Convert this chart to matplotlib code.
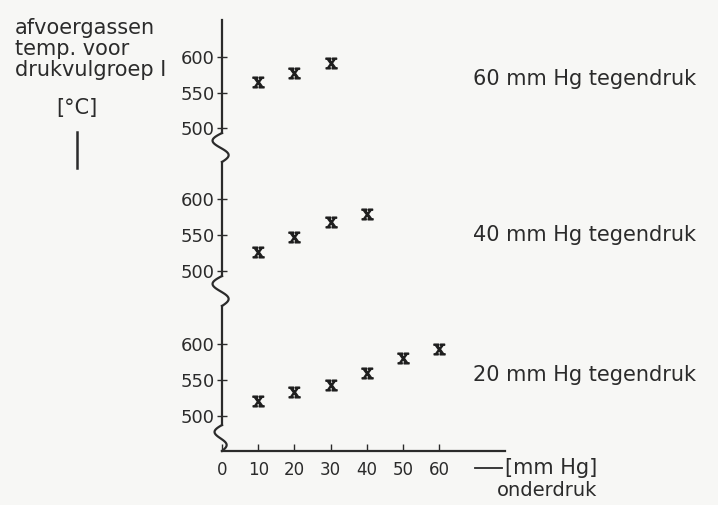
import numpy as np
import matplotlib
matplotlib.use("Agg")
import matplotlib.pyplot as plt
from matplotlib.lines import Line2D

plt.rcParams['font.family'] = ['DejaVu Sans']
plt.rcParams['mathtext.fontset'] = 'dejavuserif'

# ---- data ----
onderdruk = [10, 20, 30, 40, 50, 60]
temp_60 = [565, 577, 592]
temp_40 = [526, 547, 568, 579]
temp_20 = [521, 533, 543, 560, 580, 593]
y_ticks = [500, 550, 600]
x_ticks = [0, 10, 20, 30, 40, 50, 60]
panel_labels = ["60 mm Hg tegendruk", "40 mm Hg tegendruk", "20 mm Hg tegendruk"]

W, H = 718, 505
INK = '#2b2b2b'
BG = '#f7f7f5'

fig = plt.figure(figsize=(W / 100, H / 100), dpi=100, facecolor=BG)

def fx(px):
    return px / W

def fy(py):
    return 1 - py / H

def make_axes(top, bottom):
    ax = fig.add_axes([fx(222), fy(bottom), fx(505) - fx(222), (bottom - top) / H])
    ax.set_facecolor('none')
    for s in ['top', 'right', 'bottom']:
        ax.spines[s].set_visible(False)
    ax.spines['left'].set_color(INK)
    ax.spines['left'].set_linewidth(1.6)
    ax.set_xlim(0, 78.2)
    ax.set_yticks(y_ticks)
    ax.set_yticklabels([str(v) for v in y_ticks])
    ax.tick_params(axis='y', direction='inout', length=7, width=1, pad=2,
                   colors=INK, labelsize=13)
    return ax

# panels: (top px, bottom px, ylim)
ax1 = make_axes(20, 133)
ax1.set_ylim(493.0, 652.1)
ax2 = make_axes(162, 276)
ax2.set_ylim(493.1, 651.4)
ax3 = make_axes(306, 451)
ax3.set_ylim(451.4, 652.8)
ax3.spines['left'].set_bounds(487.5, 652.8)

for ax in (ax1, ax2):
    ax.set_xticks([])

ax3.spines['bottom'].set_visible(True)
ax3.spines['bottom'].set_color(INK)
ax3.spines['bottom'].set_linewidth(1.6)
ax3.set_xticks(x_ticks)
ax3.set_xticklabels([str(v) for v in x_ticks])
ax3.tick_params(axis='x', direction='in', length=5, width=1, pad=7,
                colors=INK, labelsize=12)

mk = dict(linestyle='none', marker=r'$\mathrm{x}$', markersize=8, color='#1e1e1e')
ax1.plot(onderdruk[:len(temp_60)], temp_60, **mk)
ax2.plot(onderdruk[:len(temp_40)], temp_40, **mk)
ax3.plot(onderdruk[:len(temp_20)], temp_20, **mk)

# ---- axis-break squiggles (decoration, figure pixels) ----
def squiggle(y0, y1, amp):
    t = np.linspace(0, 1, 60)
    xs = 222 - amp * np.sin(2 * np.pi * t) - 2 * np.sin(np.pi * t)
    ys = y0 + (y1 - y0) * t
    fig.add_artist(Line2D(fx(xs), fy(ys), transform=fig.transFigure,
                          color=INK, lw=1.6))

squiggle(133, 162, 8)
squiggle(276, 306, 8)
squiggle(425, 451, 6)

# ---- panel labels ----
for lab, yc in zip(panel_labels, [79, 235, 375]):
    fig.text(fx(473), fy(yc), lab, ha='left', va='center', fontsize=15, color=INK)

# ---- y axis title (top-left) ----
fig.text(fx(15), fy(28), "afvoergassen", ha='left', va='center', fontsize=15, color=INK)
fig.text(fx(15), fy(49), "temp. voor", ha='left', va='center', fontsize=15, color=INK)
fig.text(fx(15), fy(70), "drukvulgroep I", ha='left', va='center', fontsize=15, color=INK)
fig.text(fx(77), fy(108), "[°C]", ha='center', va='center', fontsize=15, color=INK)
fig.add_artist(Line2D([fx(77), fx(77)], [fy(132), fy(168)], transform=fig.transFigure,
                      color=INK, lw=1.8))

# ---- x axis title ----
fig.add_artist(Line2D([fx(475), fx(502)], [fy(468), fy(468)], transform=fig.transFigure,
                      color=INK, lw=1.3))
fig.text(fx(505), fy(468), "[mm Hg]", ha='left', va='center', fontsize=15, color=INK)
fig.text(fx(497), fy(490), "onderdruk", ha='left', va='center', fontsize=14, color=INK)

fig.savefig("out.png", dpi=100, facecolor=BG)
